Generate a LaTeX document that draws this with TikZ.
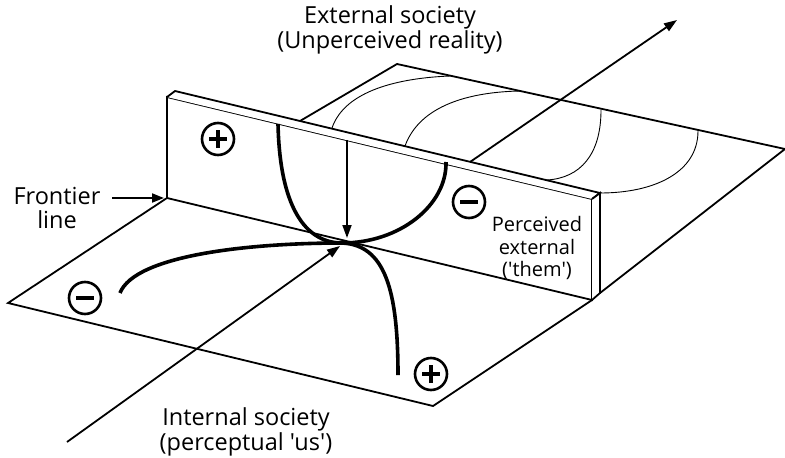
\documentclass[tikz,border=0pt]{standalone}
\usepackage{fontspec}
\setmainfont{Open Sans}[Ligatures=TeXOff]
\usetikzlibrary{arrows.meta}
\begin{document}
\begin{tikzpicture}[x=1pt,y=-1pt,
  edge/.style={line width=1.8pt,line join=miter},
  thick curve/.style={line width=3.6pt},
  thin curve/.style={line width=0.9pt},
  arrowline/.style={line width=1.8pt,-{Triangle[length=13pt,width=9pt]}},
  sign/.style={circle,draw,line width=2.6pt,minimum size=32pt,inner sep=0pt},
  signbar/.style={line width=3.4pt},
  bigtext/.style={font=\fontsize{23.5}{24.5}\selectfont,align=center,inner sep=0pt},
  smalltext/.style={font=\fontsize{20}{22.5}\selectfont,align=center,inner sep=0pt}]
\useasboundingbox (0,0) rectangle (785,458);
% corners
\coordinate (wFTL) at (167,97);
\coordinate (wFTR) at (592,199);
\coordinate (wFBR) at (592,300);
\coordinate (wFBL) at (167,198);
\coordinate (wBTL) at (175,91);
\coordinate (wBTR) at (600,193);
\coordinate (wBBR) at (600,293);
\coordinate (fL) at (8,303);
\coordinate (fB) at (433,406);
\coordinate (bL) at (300,121);
\coordinate (bT) at (397,64);
\coordinate (bR) at (785,149);
\coordinate (C) at (342,243);
% back plane
\draw[edge] (bL) -- (bT) -- (bR) -- (wBBR);
% thin curves
\draw[thin curve] (332,128) .. controls (345,90) and (400,78) .. (450,76);
\draw[thin curve] (405,146) .. controls (420,105) and (470,92) .. (520,91);
\draw[thin curve] (601,110) .. controls (601,155) and (580,178) .. (547,180);
\draw[thin curve] (698,131) .. controls (698,172) and (655,193) .. (wBTR);
% arrow to external
\coordinate (a2s) at (470,162);
\coordinate (a2e) at (677,20);
\draw[arrowline] (a2s) -- (a2e);
% wall
\draw[edge,fill=white] (wFTL) -- (wFTR) -- (wFBR) -- (wFBL) -- cycle;
\draw[edge,fill=white] (wFTL) -- (wBTL) -- (wBTR) -- (wFTR);
\draw[edge,fill=white] (wFTR) -- (wBTR) -- (wBBR) -- (wFBR);
% front plane
\draw[edge] (wFBL) -- (fL) -- (fB) -- (wFBR);
% thick curves
\draw[thick curve] (278,124) .. controls (280,215) and (310,243) .. (C)
  .. controls (400,243) and (447,205) .. (446,162);
\draw[thick curve] (120,293) .. controls (135,255) and (250,243) .. (C);
\draw[thick curve] (C) .. controls (385,245) and (398,290) .. (398,375);
% arrows
\coordinate (vs) at (347,140);
\coordinate (ve) at (347,238);
\draw[arrowline] (vs) -- (ve);
\coordinate (a1s) at (67,442);
\coordinate (a1e) at (340,246);
\draw[arrowline] (a1s) -- (a1e);
% signs
\node[sign] (p1) at (218,139) {};
\draw[signbar] ([xshift=-9pt]p1.center) -- ([xshift=9pt]p1.center)
  ([yshift=-9pt]p1.center) -- ([yshift=9pt]p1.center);
\node[sign] (p2) at (431,374) {};
\draw[signbar] ([xshift=-9pt]p2.center) -- ([xshift=9pt]p2.center)
  ([yshift=-9pt]p2.center) -- ([yshift=9pt]p2.center);
\node[sign] (m1) at (85,298) {};
\draw[signbar] ([xshift=-9pt]m1.center) -- ([xshift=9pt]m1.center);
\node[sign] (m2) at (469,202) {};
\draw[signbar] ([xshift=-9pt]m2.center) -- ([xshift=9pt]m2.center);
% labels
\node[bigtext] (ext) at (390,30) {External society\\(Unperceived reality)};
\node[bigtext] (front) at (57,208) {Frontier\\line};
\coordinate (fa) at (112,198);
\coordinate (fe) at (164,198);
\draw[line width=1.8pt,-{Triangle[length=12pt,width=9pt]}] (fa) -- (fe);
\node[bigtext] (int) at (246,432) {Internal society\\(perceptual 'us')};
\node[smalltext] (perc) at (537,248) {Perceived\\external\\('them')};
\end{tikzpicture}
\end{document}
